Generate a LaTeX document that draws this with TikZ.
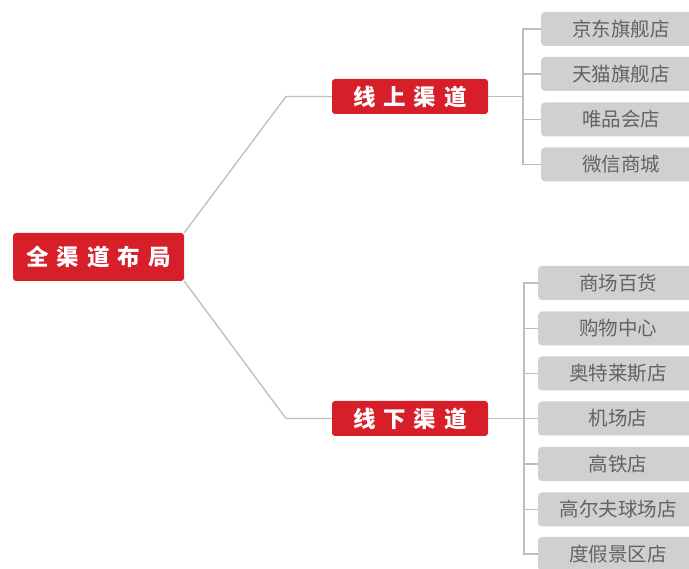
\documentclass[tikz,border=0pt]{standalone}
\usepackage{fontspec}
\newfontfamily\cjk{Noto Sans CJK SC}
\newcommand{\redgap}{\hspace{8pt}}
\definecolor{chred}{HTML}{D71F29}
\definecolor{leafgray}{HTML}{D0D0D0}
\definecolor{leaftext}{HTML}{636363}
\definecolor{linkgray}{HTML}{BDBDBD}
\tikzset{redbox/.style={fill=chred, rounded corners=3pt, text=white, inner sep=0pt,
                        font=\cjk\bfseries\fontsize{22.5}{24}\selectfont},
         leaf/.style={fill=leafgray, rounded corners=4pt, text=leaftext, inner sep=0pt,
                      minimum width=160pt, minimum height=34pt,
                      font=\cjk\fontsize{19.5}{22}\selectfont},
         link/.style={draw=linkgray, line width=1.3pt}}
\begin{document}
\begin{tikzpicture}[x=1pt,y=-1pt]
                \useasboundingbox (0,0) rectangle (689,569);
                \clip (0,0) rectangle (689,569);

                \node[redbox, minimum width=171pt, minimum height=48pt] (root) at (98.5,257) {全\redgap 渠\redgap 道\redgap 布\redgap 局};
                \node[redbox, minimum width=156pt, minimum height=35pt] (on) at (410,96.5) {线\redgap 上\redgap 渠\redgap 道};
                \node[redbox, minimum width=156pt, minimum height=35pt] (off) at (410,418.5) {线\redgap 下\redgap 渠\redgap 道};

                \coordinate (onbend) at (286,96.5);
                \coordinate (offbend) at (286,418.5);
                \draw[link] (root.north east) -- (onbend) -- (on.west);
                \draw[link] (root.south east) -- (offbend) -- (off.west);

                % online
                \node[leaf] (on1) at (621,29) {京东旗舰店};
                \node[leaf] (on2) at (621,74) {天猫旗舰店};
                \node[leaf] (on3) at (621,119.5) {唯品会店};
                \node[leaf] (on4) at (621,164.5) {微信商城};

                \coordinate (onfork) at (523,96.5);
                \draw[link] (on.east) -- (onfork);
                \draw[link] (onfork) |- (on1.west);
                \draw[link] (onfork) |- (on2.west);
                \draw[link] (onfork) |- (on3.west);
                \draw[link] (onfork) |- (on4.west);

                % offline
                \node[leaf] (off1) at (618,283) {商场百货};
                \node[leaf] (off2) at (618,328.5) {购物中心};
                \node[leaf] (off3) at (618,373.5) {奥特莱斯店};
                \node[leaf] (off4) at (618,418.5) {机场店};
                \node[leaf] (off5) at (618,464) {高铁店};
                \node[leaf] (off6) at (618,509.5) {高尔夫球场店};
                \node[leaf] (off7) at (618,554) {度假景区店};

                \coordinate (offfork) at (524,418.5);
                \draw[link] (off.east) -- (offfork);
                \draw[link] (offfork) |- (off1.west);
                \draw[link] (offfork) |- (off2.west);
                \draw[link] (offfork) |- (off3.west);
                \draw[link] (offfork) |- (off4.west);
                \draw[link] (offfork) |- (off5.west);
                \draw[link] (offfork) |- (off6.west);
                \draw[link] (offfork) |- (off7.west);

\end{tikzpicture}
\end{document}
